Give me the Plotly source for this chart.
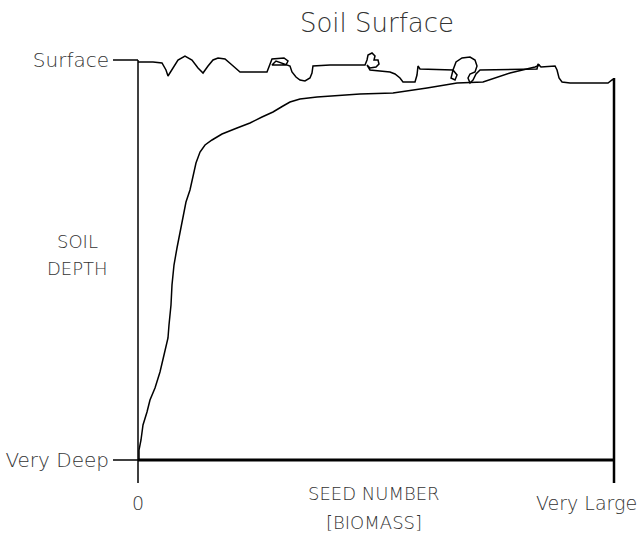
import plotly.graph_objects as go

# Soil surface trace (seed number axis 0..100, depth axis 0=very deep .. 100=surface)
surface_x = [0, 3.15, 5.04, 5.88, 6.30, 7.14, 8.40, 9.87, 11.34, 12.61, 13.66, 14.71, 15.76, 16.81,
             18.28, 19.75, 21.43, 27.10, 27.73, 28.15, 30.67, 31.51, 31.09, 28.15, 28.99, 31.93,
             32.35, 33.19, 34.03, 35.08, 36.13, 36.55, 36.76, 40.34, 47.69, 48.11, 48.32, 49.16,
             49.79, 49.58, 50.42, 50.63, 50.00, 48.74, 48.11, 48.74, 52.94, 53.99, 55.04, 55.67,
             58.19, 58.61, 58.82, 59.24, 66.18, 67.02, 66.60, 65.76, 66.18, 66.81, 68.07, 69.75,
             70.80, 71.22, 70.80, 69.75, 69.33, 69.75, 70.38, 71.01, 71.85, 83.82, 84.03, 84.66,
             87.61, 88.03, 88.45, 89.08, 90.76, 98.74, 99.58, 100]
surface_y = [99.5, 99.5, 99.25, 97.5, 96, 97.5, 100, 101, 100, 98, 96.75, 98.5, 100, 100.5,
             100.25, 98.75, 97, 97, 99, 100.25, 100.5, 99.75, 98.75, 98.75, 99.75, 98.5,
             97, 95.75, 95, 94.75, 95.5, 96.75, 98.5, 98.75, 98.75, 100, 101.25, 101.75,
             101, 100, 100, 99, 98.25, 98, 98.75, 97.5, 97, 96.5, 95.5, 94.5,
             94.5, 96.25, 98.5, 97.75, 97.5, 96.25, 95, 95.5, 97.5, 99.5, 100.5, 100.75,
             100, 98.5, 97, 96.5, 95.5, 94.25, 95, 96.5, 97.5, 97.75, 99, 98.25,
             98.5, 97.5, 95.5, 94.5, 94.25, 94.25, 95, 95.25]

# Seed number vs depth curve
seed_x = [0.21, 0.21, 0.63, 1.05, 1.89, 2.52, 3.57, 4.62, 5.46, 6.30, 6.51, 6.93, 7.14, 7.56,
          8.19, 8.82, 9.45, 10.08, 10.92, 11.55, 12.18, 13.03, 14.08, 15.55, 17.65, 20.80,
          23.53, 26.05, 28.36, 30.46, 31.93, 34.03, 37.61, 46.64, 53.57, 60.71, 67.02, 72.48,
          78.15, 83.40, 84.45]
seed_y = [0, 2.5, 5, 8.75, 12, 15, 18, 22, 26.25, 30.5, 33.75, 38.75, 43.75, 48.75,
          53, 57, 61.25, 64.5, 67.5, 71.25, 74.25, 77, 78.75, 80, 81.5, 83,
          84.25, 85.75, 87, 88.5, 89.5, 90.25, 90.75, 91.5, 91.75, 93, 94.25, 94.5,
          96.75, 98.25, 98.75]

y_tickvals = [0, 100]
y_ticktext = ['Very Deep', 'Surface']
x_labels = ['0', 'Very Large']

X_MIN, X_MAX = -5.462, 102.52
Y_MIN, Y_MAX = -5.75, 104

FONT = 'DejaVu Sans'
TXT = '#333333'

fig = go.Figure()

def line(x, y, w):
    fig.add_trace(go.Scatter(x=x, y=y, mode='lines', line=dict(color='black', width=w),
                             hoverinfo='skip', showlegend=False))

# axes frame drawn as lines
line([0, 0], [Y_MIN, 100], 1.5)              # left axis
line([-5.25, 0], [100, 100], 1.5)            # surface tick
line([-5.25, 0], [0, 0], 1.5)                # very deep tick
line([0, 100], [0, 0], 3)                    # bottom axis
line([100, 100], [Y_MIN, 95.5], 2.5)         # right side

line(surface_x, surface_y, 1.5)
line(seed_x, seed_y, 1.5)

def label(text, size, **kw):
    return dict(text=text, showarrow=False, xanchor='center', yanchor='middle',
                font=dict(size=size, color=TXT, family=FONT, weight=200), **kw)

annotations = [
    label(x_labels[0], 19, x=0, xref='x', y=-0.046, yref='paper'),
    label(x_labels[1], 19, x=100, xref='x', xshift=-28, y=-0.046, yref='paper'),
    label('SEED NUMBER', 18, x=49.5, xref='x', y=-0.025, yref='paper'),
    label('[BIOMASS]', 18, x=49.5, xref='x', y=-0.091, yref='paper'),
    label('SOIL', 18, x=-0.068, xref='paper', y=54.75, yref='y'),
    label('DEPTH', 18, x=-0.068, xref='paper', y=48, yref='y'),
]

fig.update_layout(
    width=639, height=534,
    margin=dict(l=112, r=13, t=44, b=51),
    title=dict(text='Soil Surface', x=377 / 639, xanchor='center', y=1 - 23 / 534, yanchor='middle',
               font=dict(size=26, color=TXT, family=FONT, weight=200)),
    xaxis=dict(range=[X_MIN, X_MAX], showgrid=False, zeroline=False, showline=False,
               showticklabels=False, ticks='', automargin=False),
    yaxis=dict(range=[Y_MIN, Y_MAX], showgrid=False, zeroline=False, showline=False, ticks='',
               tickvals=y_tickvals, ticktext=y_ticktext, ticklabelstandoff=2, automargin=False,
               tickfont=dict(size=20, color=TXT, family=FONT, weight=200)),
    annotations=annotations,
    plot_bgcolor='white',
    paper_bgcolor='white',
)

fig.write_html("out.html", config={'displayModeBar': False},
               post_script="document.body.style.margin='0';")
